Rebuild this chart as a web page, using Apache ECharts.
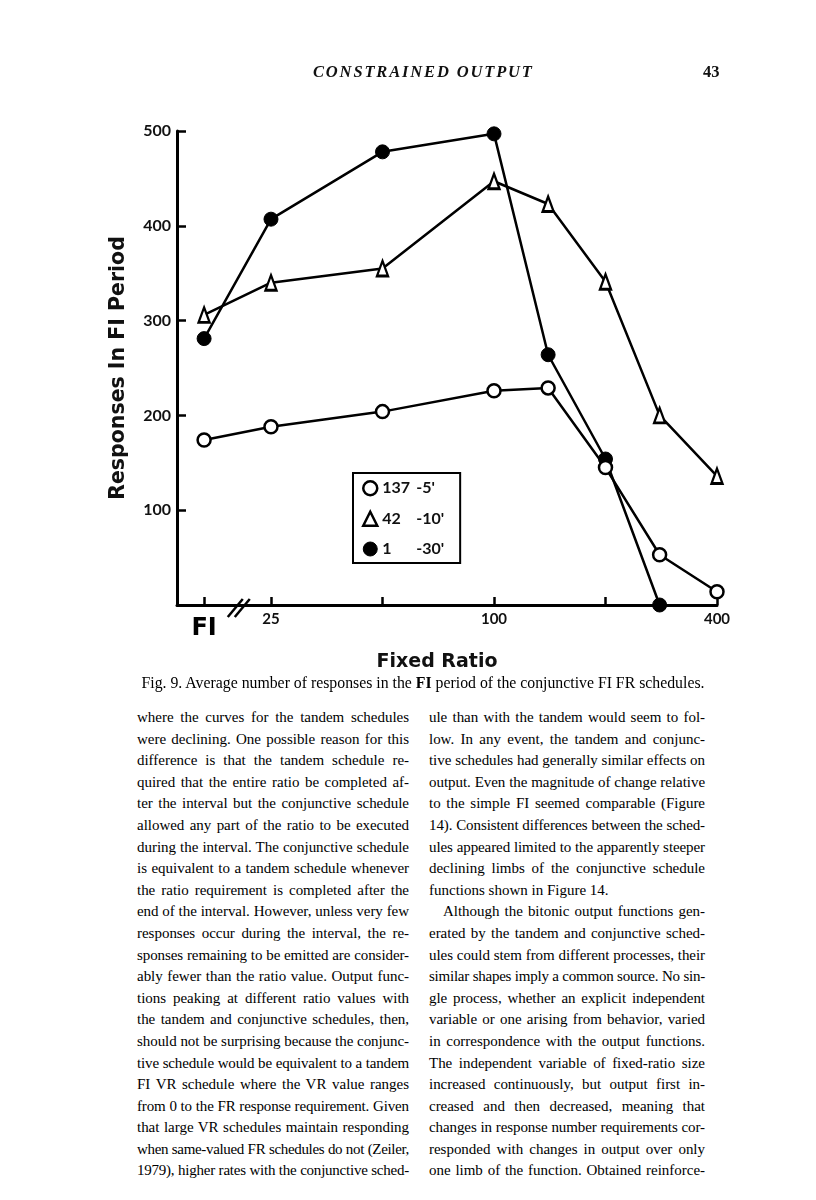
<!DOCTYPE html>
<html>
<head>
<meta charset="utf-8">
<script src="https://cdn.jsdelivr.net/npm/echarts@6/dist/echarts.min.js"></script>
<style>
  html, body { margin: 0; padding: 0; background: #fff; }
  #page { position: relative; width: 816px; height: 1200px; overflow: hidden; background: #fff; }
  #chart { position: absolute; left: 0; top: 0; width: 816px; height: 700px; }
  .hdr { position: absolute; top: 62px; font-family: "Liberation Serif", serif; font-style: italic; font-weight: bold; font-size: 16.5px; letter-spacing: 1.85px; color: #111; }
  .pgno { position: absolute; top: 62px; left: 703px; font-family: "Liberation Serif", serif; font-weight: bold; font-size: 16.5px; color: #111; }
  .cap { position: absolute; top: 674px; left: 0; width: 846px; text-align: center; font-family: "Liberation Serif", serif; font-size: 15.8px; color: #000; }
  .col { position: absolute; top: 707px; font-family: "Liberation Serif", serif; font-size: 15px; line-height: 21.6px; color: #000; }
  .col div { white-space: nowrap; text-align: justify; text-align-last: justify; }
  .col div.last { text-align-last: left; }
  .col div.ind { text-indent: 14px; }
</style>
</head>
<body>
<div id="page">
  <div id="chart"></div>
  <div class="hdr" style="left:313px;">CONSTRAINED OUTPUT</div>
  <div class="pgno">43</div>
  <div class="cap">Fig. 9. Average number of responses in the <b>FI</b> period of the conjunctive FI FR schedules.</div>
  <div class="col" id="colL" style="left:137px; width:272px;"></div>
  <div class="col" id="colR" style="left:429px; width:276px;"></div>
</div>
<script>
// ---- data ----
const ratios = ['FI', 25, 50, 100, 140, 200, 280, 400];
const open137 = [174, 188, 204, 226, 229, 145, 53, 14];
const tri42 = [306, 340, 355, 447, 423, 341, 200, 136];
const filled1 = [281, 407, 478, 497, 264, 154, 0, null];
const seriesNames = ["137 -5'", "42 -10'", "1 -30'"];
const yTickValues = [0, 100, 200, 300, 400, 500];
const xTickRatios = ['FI', 25, 50, 100, 200, 400];
const xLabelRatios = ['FI', 25, 100, 400];
const fiEquivalent = -0.6; // FI plotted left of the axis break

const leftLines = [
  "where the curves for the tandem schedules",
  "were declining. One possible reason for this",
  "difference is that the tandem schedule re-",
  "quired that the entire ratio be completed af-",
  "ter the interval but the conjunctive schedule",
  "allowed any part of the ratio to be executed",
  "during the interval. The conjunctive schedule",
  "is equivalent to a tandem schedule whenever",
  "the ratio requirement is completed after the",
  "end of the interval. However, unless very few",
  "responses occur during the interval, the re-",
  "sponses remaining to be emitted are consider-",
  "ably fewer than the ratio value. Output func-",
  "tions peaking at different ratio values with",
  "the tandem and conjunctive schedules, then,",
  "should not be surprising because the conjunc-",
  "tive schedule would be equivalent to a tandem",
  "FI VR schedule where the VR value ranges",
  "from 0 to the FR response requirement. Given",
  "that large VR schedules maintain responding",
  "when same-valued FR schedules do not (Zeiler,",
  "1979), higher rates with the conjunctive sched-"
];
const rightLines = [
  "ule than with the tandem would seem to fol-",
  "low. In any event, the tandem and conjunc-",
  "tive schedules had generally similar effects on",
  "output. Even the magnitude of change relative",
  "to the simple FI seemed comparable (Figure",
  "14). Consistent differences between the sched-",
  "ules appeared limited to the apparently steeper",
  "declining limbs of the conjunctive schedule",
  "functions shown in Figure 14.",
  "Although the bitonic output functions gen-",
  "erated by the tandem and conjunctive sched-",
  "ules could stem from different processes, their",
  "similar shapes imply a common source. No sin-",
  "gle process, whether an explicit independent",
  "variable or one arising from behavior, varied",
  "in correspondence with the output functions.",
  "The independent variable of fixed-ratio size",
  "increased continuously, but output first in-",
  "creased and then decreased, meaning that",
  "changes in response number requirements cor-",
  "responded with changes in output over only",
  "one limb of the function. Obtained reinforce-"
];

function fillCol(id, lines, lastIdx, indIdx) {
  const el = document.getElementById(id);
  const w = el.clientWidth;
  lines.forEach((t, i) => {
    const d = document.createElement('div');
    const cls = [];
    if (lastIdx.includes(i)) cls.push('last');
    if (indIdx.includes(i)) cls.push('ind');
    d.className = cls.join(' ');
    el.appendChild(d);
    // measure natural width; tighten lines that would overflow the column
    const probe = document.createElement('span');
    probe.textContent = t;
    probe.style.whiteSpace = 'nowrap';
    d.appendChild(probe);
    const natural = probe.getBoundingClientRect().width + (indIdx.includes(i) ? 14 : 0);
    d.textContent = t;
    if (natural > w - 1) {
      d.style.letterSpacing = ((w - 1 - natural) / t.length).toFixed(3) + 'px';
    }
  });
}
fillCol('colL', leftLines, [], []);
fillCol('colR', rightLines, [8], [9]);

// ---- chart ----
const xPos = r => (r === 'FI' ? fiEquivalent : Math.log2(r / 25));
const toPts = vals => ratios.map((r, i) => [xPos(r), vals[i]]).filter(p => p[1] !== null);

const sansFont = '"DejaVu Sans", sans-serif';
const tickFont = 'Lato, "DejaVu Sans", sans-serif';
const chart = echarts.init(document.getElementById('chart'), null, { renderer: 'canvas' });

const lineStyle = { color: '#000', width: 2.5 };
const option = {
  animation: false,
  backgroundColor: 'transparent',
  grid: { left: 177, top: 131, width: 540, height: 474 },
  xAxis: {
    type: 'value',
    min: -0.843, max: 4.0,
    splitLine: { show: false },
    axisLine: { onZero: false, lineStyle: { color: '#000', width: 3 } },
    axisTick: { inside: true, length: 8, lineStyle: { color: '#000', width: 2.5 },
      customValues: xTickRatios.map(xPos) },
    axisLabel: {
      customValues: xLabelRatios.map(xPos),
      margin: 7,
      formatter: v => {
        const idx = xLabelRatios.map(xPos).findIndex(p => Math.abs(p - v) < 1e-6);
        const lab = idx >= 0 ? String(xLabelRatios[idx]) : '';
        return lab === 'FI' ? '{fi|FI}' : '{n|' + lab + '}';
      },
      rich: {
        fi: { fontSize: 24, fontWeight: 'bold', fontFamily: sansFont, color: '#000', padding: [5, 0, 0, 0] },
        n: { fontSize: 15, fontWeight: 'bold', fontFamily: tickFont, color: '#111' }
      }
    },
    name: 'Fixed Ratio',
    nameLocation: 'middle',
    nameGap: 48,
    nameTextStyle: { fontSize: 19, fontWeight: 'bold', fontFamily: sansFont, color: '#111', padding: [0, 20, 0, 0] }
  },
  yAxis: {
    type: 'value',
    min: 0, max: 500, interval: 100,
    splitLine: { show: false },
    axisLine: { onZero: false, lineStyle: { color: '#000', width: 3 } },
    axisTick: { inside: true, length: 9, lineStyle: { color: '#000', width: 2.5 } },
    axisLabel: {
      margin: 6,
      fontSize: 16, fontWeight: 'bold', fontFamily: tickFont, color: '#111',
      formatter: v => (yTickValues.includes(v) && v !== 0 ? String(v) : '')
    },
    name: 'Responses In FI Period',
    nameLocation: 'middle',
    nameGap: 48,
    nameRotate: 90,
    nameTextStyle: { fontSize: 20.5, fontWeight: 'bold', fontFamily: sansFont, color: '#111' }
  },
  legend: {
    orient: 'vertical',
    left: 353, top: 473,
    padding: [7, 16, 6, 9],
    itemGap: 14,
    itemWidth: 14, itemHeight: 14,
    itemTextGap: 5,
    borderColor: '#000', borderWidth: 2,
    backgroundColor: '#fff',
    selectedMode: false,
    data: [
      { name: seriesNames[0], icon: 'circle', itemStyle: { color: '#fff', borderColor: '#000', borderWidth: 2.5 } },
      { name: seriesNames[1], icon: 'triangle', itemStyle: { color: '#fff', borderColor: '#000', borderWidth: 2.5 } },
      { name: seriesNames[2], icon: 'circle', itemStyle: { color: '#000', borderColor: '#000', borderWidth: 1 } }
    ],
    formatter: name => {
      const parts = name.split(' ');
      return '{a|' + parts[0] + '}{b|' + parts[1] + '}';
    },
    textStyle: {
      fontSize: 16, fontFamily: tickFont, color: '#111',
      rich: {
        a: { fontSize: 16, fontWeight: 'bold', fontFamily: tickFont, color: '#111', width: 34 },
        b: { fontSize: 16, fontWeight: 'bold', fontFamily: tickFont, color: '#111' }
      }
    }
  },
  series: [
    {
      name: seriesNames[2], type: 'line', z: 2,
      data: toPts(filled1),
      symbol: 'circle', symbolSize: 14,
      itemStyle: { color: '#000', borderColor: '#000', borderWidth: 1 },
      lineStyle: lineStyle
    },
    {
      name: seriesNames[1], type: 'line', z: 3,
      data: toPts(tri42),
      symbol: 'triangle', symbolSize: [11, 15],
      itemStyle: { color: '#fff', borderColor: '#000', borderWidth: 2.5 },
      lineStyle: lineStyle
    },
    {
      name: seriesNames[0], type: 'line', z: 4,
      data: toPts(open137),
      symbol: 'circle', symbolSize: 13,
      itemStyle: { color: '#fff', borderColor: '#000', borderWidth: 2.5 },
      lineStyle: lineStyle
    }
  ]
};
chart.setOption(option);

// axis break marks between FI and 25
const bx = chart.convertToPixel({ gridIndex: 0 }, [(xPos('FI') + xPos(25)) / 2 + 0.02, 0]);
chart.setOption({
  graphic: [
    { type: 'line', shape: { x1: bx[0] - 12, y1: bx[1] + 12, x2: bx[0] + 3, y2: bx[1] - 6 }, style: { stroke: '#000', lineWidth: 2.5 }, z: 10 },
    { type: 'line', shape: { x1: bx[0] - 5, y1: bx[1] + 12, x2: bx[0] + 10, y2: bx[1] - 6 }, style: { stroke: '#000', lineWidth: 2.5 }, z: 10 }
  ]
});
</script>
</body>
</html>
